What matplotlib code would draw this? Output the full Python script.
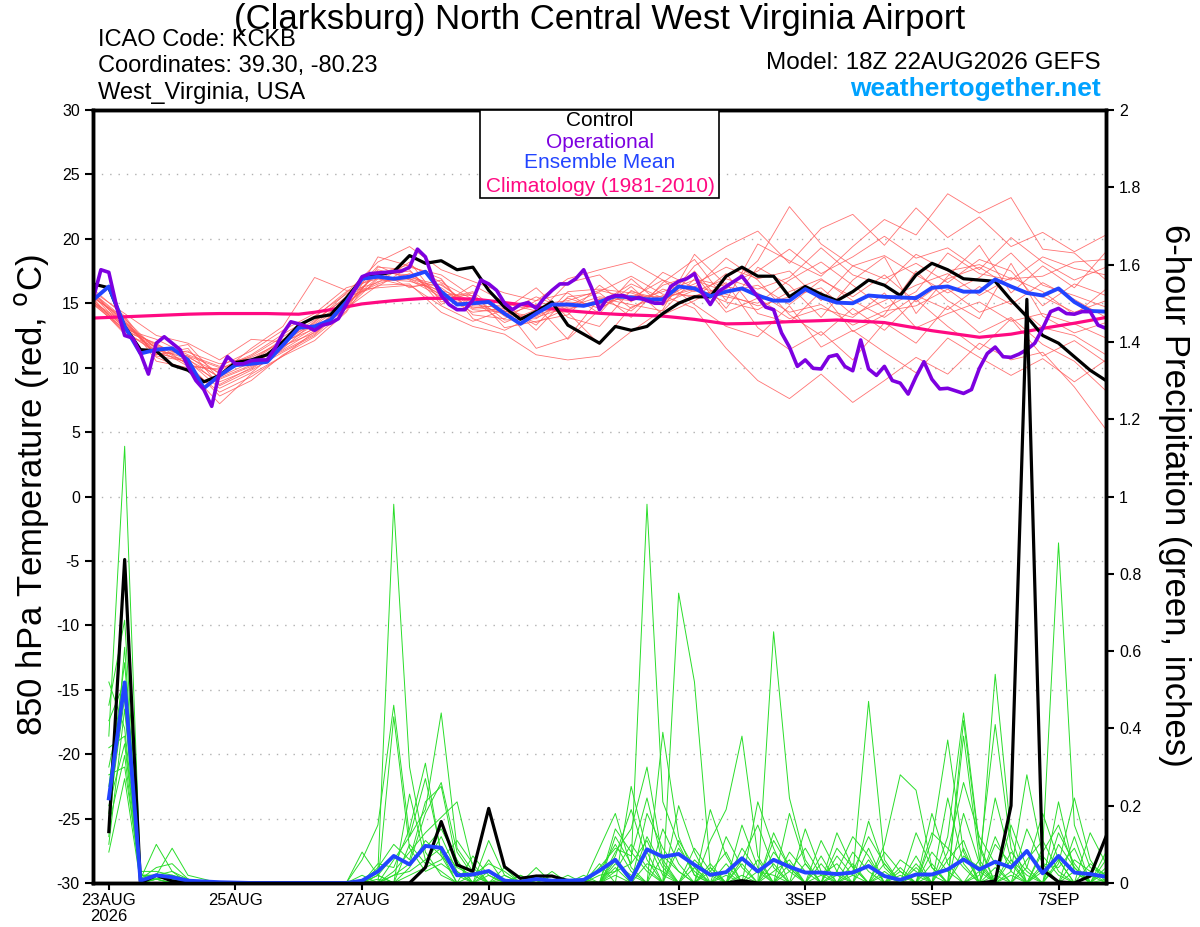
import numpy as np
import matplotlib
matplotlib.use("Agg")
import matplotlib.pyplot as plt

plt.rcParams['font.family'] = ['Liberation Sans', 'DejaVu Sans']
plt.rcParams['axes.unicode_minus'] = False

# hours after 18Z 22AUG2026
tick_hours = [6, 54, 102, 150, 222, 270, 318, 366]
tick_labels = ["23AUG\n2026", "25AUG", "27AUG", "29AUG", "1SEP", "3SEP", "5SEP", "7SEP"]

# 850 hPa temperature, 6-hourly (0..384 h)
control_temp = [16.5, 16.2, 13.2, 11.4, 11.3, 10.2, 9.8, 8.9, 9.4, 10.4, 10.6, 11.0, 12.0,
                13.3, 13.9, 14.1, 15.4, 16.9, 17.2, 17.45, 18.7, 18.1, 18.3, 17.6, 17.8,
                16.0, 14.7, 13.75, 14.35, 15.1, 13.3, 12.6, 11.9, 13.2, 12.9, 13.2, 14.2,
                15.0, 15.5, 15.5, 17.1, 17.8, 17.1, 17.1, 15.5, 16.3, 15.7, 15.2, 15.9,
                16.8, 16.4, 15.6, 17.2, 18.1, 17.6, 16.9, 16.8, 16.7, 15.25, 13.96, 12.5,
                11.9, 10.85, 9.8, 9.0]
mean_temp = [15.25, 16.3, 13.2, 11.1, 11.4, 11.5, 10.6, 8.4, 9.4, 10.2, 10.3, 10.45, 11.75,
             13.1, 13.2, 13.7, 15.1, 16.9, 17.06, 16.9, 17.06, 17.45, 15.9, 14.9, 15.0,
             15.1, 14.2, 13.4, 14.2, 14.9, 14.9, 14.8, 15.1, 15.55, 15.45, 15.3, 15.3,
             16.3, 16.15, 15.55, 15.9, 16.15, 15.6, 15.2, 15.2, 16.1, 15.45, 15.05, 15.0,
             15.6, 15.5, 15.45, 15.4, 16.2, 16.3, 15.9, 15.9, 16.85, 16.3, 15.8, 15.6,
             16.15, 15.1, 14.4, 14.35]
clim_temp = [13.85, 13.9, 13.95, 14.0, 14.05, 14.1, 14.15, 14.18, 14.2, 14.2, 14.2, 14.2,
             14.17, 14.15, 14.3, 14.5, 14.72, 14.95, 15.08, 15.2, 15.3, 15.38, 15.38, 15.35,
             15.33, 15.2, 15.05, 14.9, 14.73, 14.57, 14.42, 14.32, 14.22, 14.15, 14.09,
             14.05, 14.0, 13.88, 13.75, 13.58, 13.4, 13.42, 13.45, 13.51, 13.57, 13.61,
             13.65, 13.7, 13.63, 13.57, 13.5, 13.29, 13.08, 12.87, 12.7, 12.53, 12.36,
             12.48, 12.6, 12.82, 13.05, 13.25, 13.45, 13.67, 13.9]

# operational run, 3-hourly (0..384 h)
oper_temp = [15.3, 17.6, 17.4, 14.7, 12.5, 12.3, 11.1, 9.5, 11.9, 12.4, 11.9, 11.4, 10.1,
             9.0, 8.3, 7.0, 9.7, 10.85, 10.3, 10.3, 10.55, 10.6, 10.6, 11.5, 12.65, 13.56,
             13.4, 13.2, 12.9, 13.3, 13.45, 13.8, 14.9, 16.0, 17.06, 17.3, 17.35, 17.4,
             17.45, 17.5, 17.8, 19.2, 18.6, 16.8, 15.6, 14.9, 14.5, 14.5, 15.25, 16.8, 16.5,
             16.0, 15.0, 14.5, 14.9, 15.05, 14.6, 15.4, 16.0, 16.5, 16.5, 16.9, 17.6, 16.2,
             14.5, 15.4, 15.6, 15.6, 15.3, 15.45, 15.2, 15.0, 15.0, 16.3, 16.7, 16.9, 17.3,
             15.8, 14.9, 15.9, 16.3, 16.7, 17.1, 16.3, 15.5, 14.7, 14.5, 12.7, 11.6, 10.1,
             10.6, 9.95, 9.9, 10.85, 11.0, 10.1, 9.76, 12.15, 9.9, 9.4, 10.1, 9.0, 8.8, 7.95,
             9.3, 10.46, 9.1, 8.35, 8.4, 8.2, 8.0, 8.3, 9.95, 11.1, 11.6, 10.85, 10.8, 11.05,
             11.4, 11.9, 13.05, 14.35, 14.6, 14.2, 14.15, 14.35, 14.35, 13.3, 13.05]

# ensemble members, 12-hourly (0..384 h)
member_temps = [
    [15.8, 13.6, 11.0, 11.5, 8.6, 9.8, 11.2, 12.5, 14.8, 17.5, 16.2, 16.8, 14.1, 13.8, 15.2, 15.8, 14.2,
     16.9, 14.8, 17.5, 14.6, 17.8, 16.4, 13.9, 16.8, 18.6, 14.2, 17.1, 19.5, 15.8, 17.9, 16.2, 19.0],
    [15.0, 12.8, 11.9, 10.2, 9.8, 10.9, 12.4, 13.9, 15.9, 16.6, 18.2, 15.1, 15.8, 13.1, 13.6, 14.1, 16.4,
     14.6, 16.1, 15.4, 17.3, 14.2, 13.5, 15.9, 12.8, 14.1, 17.5, 15.2, 13.8, 18.1, 14.0, 12.7, 13.5],
    [16.1, 14.0, 10.8, 9.8, 7.2, 9.5, 10.9, 12.1, 14.3, 17.8, 17.6, 14.9, 16.4, 15.1, 12.9, 15.5, 15.8,
     13.9, 16.6, 18.4, 15.2, 19.6, 18.3, 17.1, 19.4, 21.5, 20.3, 23.5, 22.0, 23.2, 19.2, 18.9, 16.8],
    [14.9, 13.0, 12.2, 11.0, 10.1, 11.3, 12.9, 14.2, 16.2, 16.9, 16.3, 16.5, 14.6, 14.9, 14.8, 12.2, 14.5,
     16.3, 14.1, 15.2, 16.6, 13.1, 11.4, 12.8, 10.6, 13.5, 11.9, 14.8, 12.7, 13.9, 11.8, 10.5, 8.2],
    [15.6, 13.4, 11.2, 10.4, 8.9, 9.9, 11.5, 13.6, 15.5, 16.3, 17.8, 17.2, 15.5, 14.4, 13.9, 14.7, 15.5,
     15.2, 15.9, 16.8, 15.9, 16.4, 14.9, 16.8, 15.5, 17.2, 15.1, 16.9, 17.8, 16.2, 15.5, 14.3, 15.2],
    [15.2, 12.6, 11.6, 11.2, 10.3, 10.8, 12.0, 13.0, 14.9, 17.4, 17.2, 15.6, 14.3, 14.6, 13.3, 15.9, 16.1,
     15.8, 15.0, 16.0, 15.5, 15.0, 16.8, 18.2, 16.4, 14.6, 15.9, 18.9, 17.3, 16.8, 18.6, 17.7, 17.2],
    [15.4, 13.9, 10.5, 10.0, 8.1, 9.3, 10.9, 12.8, 14.6, 16.9, 16.7, 16.0, 15.2, 13.5, 14.5, 14.3, 11.8,
     14.7, 15.6, 14.6, 11.5, 9.0, 7.6, 9.5, 7.3, 9.0, 10.8, 9.5, 11.9, 10.6, 11.2, 8.5, 5.2],
    [15.9, 13.1, 11.8, 10.8, 9.6, 10.6, 12.2, 13.4, 15.3, 17.2, 17.5, 15.3, 15.9, 14.0, 14.0, 15.1, 14.9,
     15.6, 15.5, 16.5, 17.8, 16.9, 17.5, 15.2, 17.9, 16.9, 18.1, 16.6, 18.4, 17.5, 14.8, 16.5, 15.6],
    [15.1, 13.3, 11.3, 11.8, 9.1, 10.1, 11.3, 12.6, 14.9, 17.0, 16.9, 16.2, 14.5, 14.3, 15.5, 14.5, 15.3,
     14.4, 16.4, 17.2, 14.3, 15.4, 13.8, 14.6, 13.9, 15.8, 13.1, 14.2, 15.1, 13.6, 14.2, 13.4, 12.3],
    [15.7, 13.5, 11.5, 10.1, 9.9, 11.0, 12.6, 14.0, 15.7, 17.3, 18.0, 16.6, 15.3, 15.0, 14.4, 14.8, 15.9,
     17.1, 15.7, 15.6, 16.1, 18.3, 22.5, 19.6, 17.9, 18.7, 17.2, 15.8, 17.0, 18.9, 16.4, 15.6, 14.7],
    [15.3, 12.9, 11.1, 10.6, 9.3, 10.4, 11.9, 13.3, 15.0, 16.7, 16.9, 15.7, 15.6, 13.7, 13.8, 15.4, 14.6,
     15.9, 15.3, 16.3, 15.7, 14.8, 15.5, 16.2, 14.1, 15.2, 16.4, 17.3, 15.6, 17.0, 15.9, 14.1, 16.1],
    [15.5, 13.7, 10.9, 10.5, 8.4, 9.6, 11.6, 13.1, 14.7, 17.6, 17.0, 16.4, 14.8, 14.7, 11.5, 12.3, 15.4,
     14.9, 14.4, 16.9, 16.3, 15.8, 14.3, 14.9, 13.3, 14.4, 14.8, 16.1, 14.3, 15.2, 13.1, 12.5, 11.0],
    [15.0, 13.2, 11.7, 10.9, 10.0, 10.5, 12.1, 13.7, 15.4, 16.5, 17.3, 15.8, 15.1, 14.1, 14.9, 15.2, 16.0,
     15.4, 16.8, 15.9, 16.9, 16.1, 17.0, 19.3, 17.2, 16.4, 18.8, 17.5, 18.0, 16.9, 17.1, 18.2, 18.4],
    [15.8, 13.8, 11.4, 10.7, 8.7, 10.0, 11.4, 12.9, 15.2, 17.9, 16.8, 15.5, 14.7, 14.4, 13.5, 14.6, 15.0,
     16.5, 15.4, 16.1, 15.1, 14.5, 15.9, 16.9, 15.2, 13.9, 15.6, 14.5, 16.3, 14.9, 16.6, 15.3, 13.9],
    [15.6, 13.0, 11.6, 10.3, 7.8, 9.0, 11.0, 12.4, 14.4, 18.6, 17.9, 16.9, 13.8, 12.9, 14.1, 16.6, 17.2,
     15.1, 17.4, 16.2, 18.5, 16.8, 14.1, 12.5, 14.6, 12.9, 15.3, 13.2, 11.4, 13.8, 10.9, 12.1, 10.4],
    [15.1, 13.5, 11.0, 11.3, 9.5, 11.5, 13.2, 17.0, 16.0, 16.2, 16.4, 14.8, 13.6, 14.5, 16.2, 13.9, 13.2,
     16.0, 14.9, 17.9, 19.4, 20.6, 18.1, 20.8, 21.9, 19.5, 22.4, 20.1, 21.7, 19.4, 20.5, 19.0, 20.3],
    [15.9, 14.2, 12.5, 11.9, 10.6, 12.2, 12.0, 13.5, 15.8, 18.2, 19.4, 17.6, 16.7, 15.8, 15.2, 16.9, 17.6,
     18.2, 16.8, 14.9, 13.2, 12.4, 14.8, 11.6, 12.9, 11.2, 9.6, 12.3, 10.8, 9.4, 10.7, 8.9, 10.6],
    [15.4, 12.7, 11.3, 10.9, 9.2, 10.2, 11.7, 12.7, 14.6, 16.4, 16.5, 14.3, 13.2, 12.6, 11.0, 10.6, 10.9,
     12.8, 14.5, 18.8, 16.4, 17.5, 19.2, 17.3, 18.6, 20.2, 18.5, 19.3, 17.6, 20.1, 18.2, 16.8, 17.8],
]

# 6-hour precipitation (inches), 6..384 h
control_precip = [0.133, 0.837, 0.0, 0.02, 0.005, 0, 0, 0, 0, 0, 0, 0, 0, 0, 0, 0,
                  0, 0, 0, 0.0, 0.04, 0.159, 0.047, 0.03, 0.193, 0.042, 0.012, 0.018, 0.018, 0.006, 0, 0,
                  0, 0, 0, 0, 0, 0, 0, 0, 0.006, 0, 0, 0, 0, 0, 0, 0,
                  0, 0, 0, 0, 0, 0, 0, 0, 0.005, 0.2, 1.51, 0.034, 0.003, 0, 0.018, 0.12]
mean_precip = [0.219, 0.519, 0.006, 0.02, 0.015, 0.006, 0.004, 0.002, 0.001, 0, 0, 0, 0, 0, 0, 0,
               0.006, 0.03, 0.07, 0.048, 0.096, 0.091, 0.02, 0.022, 0.031, 0.006, 0.003, 0.01, 0.006, 0.006, 0.008, 0.032,
               0.06, 0.008, 0.087, 0.068, 0.075, 0.047, 0.021, 0.028, 0.064, 0.03, 0.06, 0.042, 0.027, 0.027, 0.023, 0.027,
               0.044, 0.018, 0.008, 0.022, 0.022, 0.035, 0.061, 0.035, 0.055, 0.04, 0.083, 0.025, 0.07, 0.027, 0.023, 0.016]
member_precips = [
    [0.38, 1.13, 0.02, 0.01, 0.02, 0, 0, 0, 0, 0, 0, 0, 0, 0, 0, 0,
     0, 0.03, 0.98, 0.30, 0.08, 0.02, 0, 0, 0, 0.01, 0, 0, 0, 0, 0, 0,
     0.12, 0.05, 0.98, 0.21, 0.10, 0.02, 0, 0, 0.06, 0.15, 0.04, 0, 0, 0, 0.03, 0.12,
     0.07, 0, 0, 0.02, 0, 0, 0.18, 0.05, 0, 0.03, 0, 0.09, 0.88, 0.15, 0.04, 0.02],
    [0.46, 0.68, 0.01, 0.10, 0.03, 0.01, 0, 0, 0, 0, 0, 0, 0, 0, 0, 0,
     0.06, 0.15, 0.46, 0.12, 0.27, 0.08, 0, 0, 0.03, 0, 0, 0.02, 0, 0, 0, 0.09,
     0.18, 0.04, 0, 0.39, 0.12, 0.02, 0, 0.05, 0, 0, 0.65, 0.22, 0.06, 0, 0, 0,
     0, 0.03, 0, 0, 0.11, 0.37, 0.08, 0, 0.02, 0, 0.14, 0.05, 0, 0.03, 0, 0.01],
    [0.12, 0.61, 0, 0.02, 0.01, 0, 0, 0, 0, 0, 0, 0, 0, 0, 0, 0,
     0.02, 0, 0.06, 0.12, 0.19, 0.44, 0.09, 0.03, 0, 0, 0, 0, 0, 0.01, 0, 0.05,
     0, 0.25, 0.08, 0, 0.75, 0.52, 0.04, 0, 0.02, 0, 0, 0.08, 0.03, 0, 0, 0.02,
     0.47, 0.06, 0, 0.13, 0.04, 0, 0, 0.02, 0.54, 0.12, 0, 0, 0.05, 0.22, 0.06, 0],
    [0.25, 0.57, 0.03, 0.03, 0.02, 0.01, 0, 0, 0, 0, 0, 0, 0, 0, 0, 0,
     0, 0.04, 0.10, 0.06, 0.21, 0.25, 0.05, 0, 0.11, 0.02, 0, 0, 0.03, 0, 0.02, 0,
     0.08, 0.14, 0.30, 0.06, 0, 0, 0.11, 0.19, 0.38, 0.07, 0, 0, 0, 0.02, 0.05, 0,
     0, 0, 0.03, 0, 0, 0.12, 0.44, 0.10, 0, 0, 0.04, 0.18, 0.06, 0, 0.13, 0.05],
    [0.30, 0.50, 0.01, 0.02, 0.09, 0.02, 0.01, 0, 0, 0, 0, 0, 0, 0, 0, 0,
     0, 0, 0.03, 0.08, 0.13, 0.17, 0.21, 0.04, 0, 0, 0.02, 0, 0, 0.02, 0, 0,
     0.04, 0, 0.12, 0.04, 0, 0.06, 0.02, 0, 0, 0.21, 0.09, 0, 0.14, 0.03, 0, 0.05,
     0, 0.10, 0.28, 0.24, 0.04, 0, 0.42, 0.09, 0, 0.06, 0.02, 0, 0.21, 0.03, 0, 0],
    [0.10, 0.45, 0, 0.01, 0, 0, 0, 0, 0, 0, 0, 0, 0, 0, 0, 0,
     0, 0.02, 0, 0.04, 0.11, 0.07, 0, 0.02, 0.05, 0.03, 0, 0, 0, 0, 0, 0.02,
     0.03, 0.10, 0.04, 0, 0.20, 0.08, 0, 0.03, 0, 0, 0.13, 0.04, 0, 0, 0.09, 0.04,
     0, 0.02, 0, 0, 0.08, 0.03, 0, 0.06, 0.41, 0.09, 0, 0.03, 0, 0.06, 0.03, 0],
    [0.52, 0.40, 0.02, 0.02, 0.03, 0, 0, 0, 0, 0, 0, 0, 0, 0, 0, 0,
     0, 0, 0.02, 0.05, 0.09, 0.14, 0.06, 0, 0.02, 0, 0, 0, 0, 0, 0, 0,
     0.06, 0, 0.18, 0.09, 0.03, 0, 0.05, 0, 0.15, 0.04, 0, 0.18, 0.05, 0, 0, 0,
     0.16, 0.04, 0, 0.05, 0, 0.22, 0.05, 0, 0.12, 0.03, 0.28, 0.07, 0.02, 0, 0, 0.08],
    [0.20, 0.36, 0.01, 0.04, 0.05, 0.01, 0, 0, 0, 0, 0, 0, 0, 0, 0, 0,
     0.08, 0.02, 0, 0.23, 0.06, 0.03, 0, 0.07, 0.02, 0, 0, 0.04, 0, 0, 0, 0.03,
     0.10, 0.03, 0, 0.14, 0.05, 0, 0.19, 0.07, 0, 0, 0.05, 0, 0, 0.11, 0.03, 0,
     0.06, 0, 0.04, 0, 0.18, 0.05, 0, 0.03, 0, 0.15, 0.04, 0, 0.10, 0.04, 0, 0],
    [0.15, 0.33, 0, 0.01, 0, 0, 0, 0, 0, 0, 0, 0, 0, 0, 0, 0,
     0, 0, 0.43, 0.09, 0.03, 0.05, 0.02, 0, 0, 0.04, 0, 0, 0, 0, 0, 0,
     0.03, 0.05, 0.11, 0.02, 0, 0.09, 0.03, 0, 0, 0.06, 0, 0.03, 0.09, 0.02, 0, 0.08,
     0.03, 0, 0, 0.07, 0, 0, 0.38, 0.06, 0, 0.02, 0, 0.05, 0.04, 0.09, 0, 0],
    [0.28, 0.30, 0.02, 0.02, 0.01, 0, 0, 0, 0, 0, 0, 0, 0, 0, 0, 0,
     0, 0.01, 0, 0.10, 0.05, 0.12, 0.03, 0, 0, 0, 0, 0, 0.02, 0, 0, 0,
     0.07, 0.19, 0.06, 0, 0.11, 0.04, 0, 0, 0.09, 0.03, 0.02, 0, 0.05, 0, 0.13, 0.04,
     0, 0, 0.06, 0.03, 0, 0.08, 0.26, 0.12, 0.05, 0, 0.06, 0.11, 0.03, 0, 0.05, 0.02],
    [0.08, 0.27, 0, 0, 0, 0, 0, 0, 0, 0, 0, 0, 0, 0, 0, 0,
     0, 0, 0.02, 0.03, 0.06, 0.09, 0.04, 0.02, 0, 0, 0, 0, 0, 0, 0, 0,
     0.02, 0, 0.05, 0.03, 0, 0.04, 0, 0.02, 0, 0, 0.03, 0.06, 0, 0, 0.02, 0,
     0, 0.05, 0, 0, 0.02, 0, 0.09, 0, 0.04, 0, 0, 0, 0.13, 0.05, 0, 0.03],
    [0.42, 0.52, 0.01, 0.02, 0.02, 0, 0, 0, 0, 0, 0, 0, 0, 0, 0, 0,
     0, 0.05, 0.04, 0.14, 0.31, 0.07, 0.03, 0, 0.06, 0, 0.02, 0, 0, 0, 0, 0.04,
     0.09, 0.07, 0.22, 0.05, 0, 0, 0.03, 0.08, 0, 0.03, 0, 0.05, 0, 0.07, 0, 0.03,
     0.12, 0.05, 0, 0.04, 0, 0.06, 0.11, 0, 0.22, 0.06, 0, 0.04, 0, 0.12, 0, 0.04],
    [0.18, 0.48, 0, 0.01, 0, 0, 0, 0, 0, 0, 0, 0, 0, 0, 0, 0,
     0, 0, 0, 0.02, 0.04, 0.06, 0.11, 0.05, 0, 0.02, 0, 0, 0, 0, 0, 0,
     0.05, 0.02, 0, 0.07, 0.03, 0, 0.04, 0, 0.05, 0, 0.08, 0.03, 0, 0.05, 0, 0,
     0.09, 0, 0.02, 0, 0.05, 0, 0.07, 0.04, 0, 0.08, 0.03, 0, 0.06, 0, 0.02, 0],
    [0.35, 0.38, 0.01, 0.01, 0.02, 0, 0, 0, 0, 0, 0, 0, 0, 0, 0, 0,
     0, 0.02, 0.07, 0.05, 0.18, 0.26, 0.08, 0.02, 0, 0, 0, 0, 0, 0, 0.01, 0,
     0.14, 0.08, 0.03, 0, 0.09, 0.03, 0, 0.12, 0.04, 0, 0.11, 0.04, 0, 0, 0.07, 0.02,
     0, 0.08, 0.03, 0, 0.13, 0.09, 0.04, 0, 0.10, 0.05, 0, 0.08, 0.15, 0.04, 0, 0.06],
]

hours6 = np.arange(0, 385, 6)
hours3 = np.arange(0, 385, 3)
hours12 = np.arange(0, 385, 12)
hours_p = np.arange(6, 385, 6)

RED = '#ff5a5a'
GREEN = '#2add2a'
PURPLE = '#7d00e0'
BLUE = '#2244ff'
PINK = '#ff0a82'

fig = plt.figure(figsize=(12, 9.27), dpi=100)
ax = fig.add_axes([93 / 1200, 1 - 883 / 927, 1013 / 1200, 773 / 927])

for m in member_temps:
    ax.plot(hours12, m, color=RED, lw=0.6, alpha=0.85)
ax.plot(hours6, clim_temp, color=PINK, lw=2.3)
ax.plot(hours6, control_temp, color='black', lw=2.3)
ax.plot(hours6, mean_temp, color=BLUE, lw=2.8)
ax.plot(hours3, oper_temp, color=PURPLE, lw=2.6)

ax.set_xlim(0, 384)
ax.set_ylim(-30, 30)
ax.set_yticks(np.arange(-30, 31, 5))
for v in np.arange(-25, 30, 5):
    ax.axhline(v, color='#b0b0b0', lw=1, ls=(0, (1, 5)), zorder=0)
ax.set_xticks(tick_hours)
ax.set_xticklabels(tick_labels, fontsize=12, linespacing=1.1)
ax.tick_params(axis='y', labelsize=11.5, length=6, width=1.5, direction='out')
ax.tick_params(axis='x', length=5, width=1.5, direction='out', pad=2)
for s in ax.spines.values():
    s.set_linewidth(2.5)

ax2 = ax.twinx()
for m in member_precips:
    ax2.plot(hours_p, m, color=GREEN, lw=0.7)
ax2.plot(hours_p, control_precip, color='black', lw=2.3)
ax2.plot(hours_p, mean_precip, color=BLUE, lw=2.8)
ax2.set_ylim(0, 2)
ax2.set_yticks(np.arange(0, 2.01, 0.2))
ax2.set_yticklabels(['0', '0.2', '0.4', '0.6', '0.8', '1', '1.2', '1.4', '1.6', '1.8', '2'])
ax2.tick_params(axis='y', labelsize=11.5, length=6, width=1.5, direction='out')
for s in ax2.spines.values():
    s.set_linewidth(2.5)

fig.text(0.026, 0.466, "850 hPa Temperature (red, $^\\mathrm{o}$C)", rotation=90,
         ha='center', va='center', fontsize=25)
fig.text(0.979, 0.466, "6-hour Precipitation (green, inches)", rotation=270,
         ha='center', va='center', fontsize=25)

fig.text(0.5, 1 - 19 / 927, "(Clarksburg) North Central West Virginia Airport",
         ha='center', va='center', fontsize=25)
fig.text(98 / 1200, 1 - 40 / 927, "ICAO Code: KCKB", ha='left', va='center', fontsize=17)
fig.text(98 / 1200, 1 - 66 / 927, "Coordinates: 39.30, -80.23", ha='left', va='center', fontsize=17)
fig.text(98 / 1200, 1 - 93 / 927, "West_Virginia, USA", ha='left', va='center', fontsize=17)
fig.text(1101 / 1200, 1 - 63 / 927, "Model: 18Z 22AUG2026 GEFS", ha='right', va='center', fontsize=17.5)
fig.text(1101 / 1200, 1 - 89 / 927, "weathertogether.net", ha='right', va='center',
         fontsize=19, fontweight='bold', color='#00a2ff')

# legend box
box = plt.Rectangle((480 / 1200, 1 - 198 / 927), 239 / 1200, 88 / 927, transform=fig.transFigure,
                    facecolor='white', edgecolor='black', lw=1.2, zorder=5)
fig.add_artist(box)
leg_items = [("Control", 'black', 121), ("Operational", PURPLE, 142),
             ("Ensemble Mean", BLUE, 163), ("Climatology (1981-2010)", PINK, 186)]
for txt, col, ypx in leg_items:
    fig.text(600 / 1200, 1 - ypx / 927, txt, ha='center', va='center', fontsize=15,
             color=col, zorder=6)

fig.savefig('out.png', dpi=100)
